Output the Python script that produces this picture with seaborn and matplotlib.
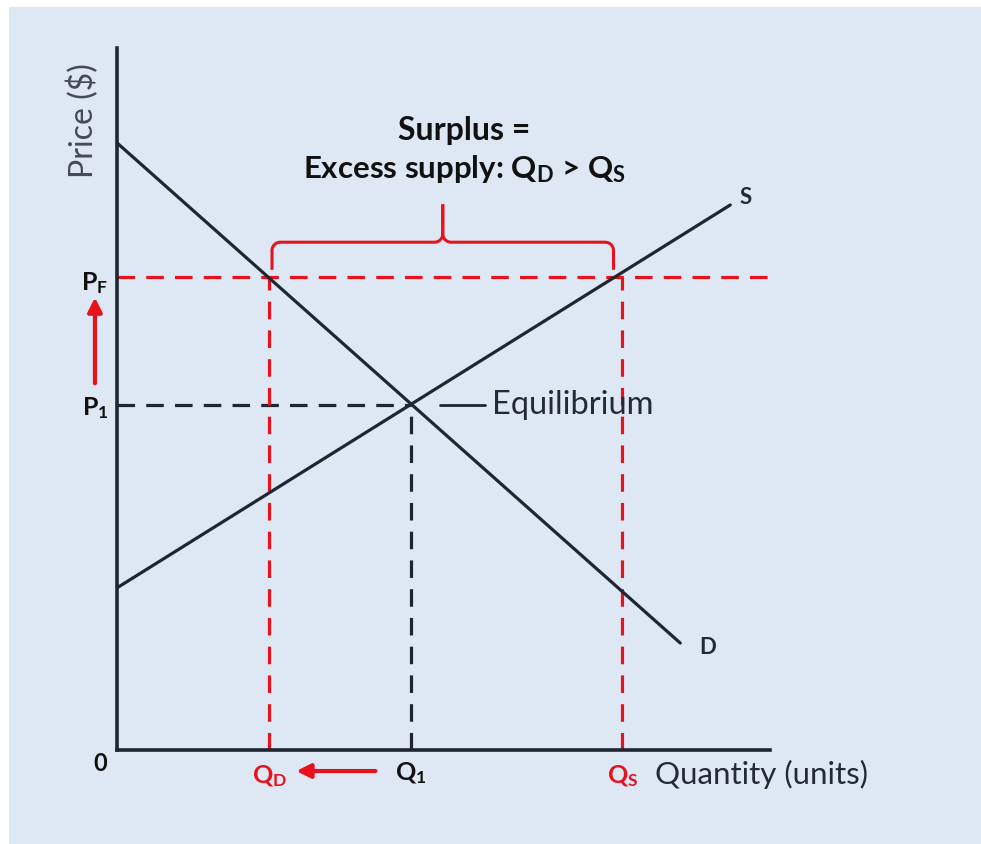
# Price floor diagram: surplus (excess supply) above equilibrium
# outputs out.png

import matplotlib.pyplot as plt
import numpy as np
import pandas as pd
import seaborn as sns
from matplotlib.patches import Rectangle

# ================ Data ================
demand_q = [0.0, 19.15]
demand_p = [17.6, 3.1]
supply_q = [0.0, 20.85]
supply_p = [4.7, 15.8]

Q_1 = 10.0
P_1 = 10.0
P_F = 13.7
Q_D = 5.17
Q_S = 17.18

X_MAX = 22.2
Y_MAX = 20.35

BG = "#dde8f4"
INK = "#1e2630"
RED = "#e8121c"

# ================ Style ================
sns.set_theme(style="white")
plt.rcParams["font.family"] = ["Lato", "DejaVu Sans"]
plt.rcParams["mathtext.fontset"] = "custom"
plt.rcParams["mathtext.rm"] = "Lato"
plt.rcParams["mathtext.bf"] = "Lato:bold"
plt.rcParams["mathtext.it"] = "Lato:italic"

fig = plt.figure(figsize=(9.81, 8.44), dpi=100)
fig.patch.set_facecolor("white")
fig.add_artist(
    Rectangle((9 / 981, 0), 1, 837 / 844, transform=fig.transFigure,
              facecolor=BG, edgecolor="none", zorder=-10)
)

ax = fig.add_axes([117 / 981, 94 / 844, 653 / 981, 702 / 844])
ax.set_facecolor("none")
ax.set_xlim(0, X_MAX)
ax.set_ylim(0, Y_MAX)
ax.set_xticks([])
ax.set_yticks([])
for side in ["top", "right"]:
    ax.spines[side].set_visible(False)
for side in ["left", "bottom"]:
    ax.spines[side].set_color(INK)
    ax.spines[side].set_linewidth(2.6)
    ax.spines[side].set_zorder(5)

# ================ Curves ================
curves = pd.concat([
    pd.DataFrame({"q": demand_q, "p": demand_p, "curve": "D"}),
    pd.DataFrame({"q": supply_q, "p": supply_p, "curve": "S"}),
])
sns.lineplot(data=curves, x="q", y="p", units="curve", estimator=None,
             color=INK, lw=2.3, ax=ax, legend=False, zorder=3)

# ================ Dashed guides ================
dash = (0, (5.5, 3.5))
ax.plot([0, Q_1], [P_1, P_1], color=INK, lw=2.3, ls=dash, zorder=2)
ax.plot([Q_1, Q_1], [0, P_1], color=INK, lw=2.3, ls=dash, zorder=2)
ax.plot([0, X_MAX], [P_F, P_F], color=RED, lw=2.3, ls=dash, zorder=2, clip_on=False)
ax.plot([Q_D, Q_D], [0, P_F], color=RED, lw=2.3, ls=dash, zorder=2)
ax.plot([Q_S, Q_S], [0, P_F], color=RED, lw=2.3, ls=dash, zorder=2)

# ================ Brace over the surplus ================
x0, x1 = Q_D + 0.1, Q_S - 0.3
xm = (x0 + x1) / 2
yb = P_F + 1.02
rx, ry = 0.28, 0.24
t = np.linspace(0, np.pi / 2, 12)
left_corner = np.column_stack([x0 + rx - rx * np.cos(t), yb - ry + ry * np.sin(t)])
mid_left = np.column_stack([xm - rx + rx * np.sin(t), yb + ry - ry * np.cos(t)])
brace_left = np.vstack([[x0, P_F + 0.22], left_corner, mid_left, [xm, yb + 1.1]])
brace_right = brace_left.copy()
brace_right[:, 0] = 2 * xm - brace_right[:, 0]
for part in (brace_left, brace_right):
    ax.plot(part[:, 0], part[:, 1], color=RED, lw=2.2, zorder=3,
            solid_capstyle="butt")

# ================ Arrows ================
ax.annotate("", xy=(-0.75, 13.2), xytext=(-0.75, 10.55), xycoords="data",
            arrowprops=dict(arrowstyle="-|>,head_length=0.7,head_width=0.35",
                            color=RED, lw=3), annotation_clip=False)
ax.annotate("", xy=(6.0, -0.61), xytext=(8.88, -0.61), xycoords="data",
            arrowprops=dict(arrowstyle="-|>,head_length=0.7,head_width=0.35",
                            color=RED, lw=3), annotation_clip=False)

# ================ Text ================
ax.text(11.8, 17.97, "Surplus =", ha="center", va="center",
        fontsize=23, fontweight="bold", color="#111111")
ax.text(11.8, 16.85, r"Excess supply: $\mathbf{Q_D}$ > $\mathbf{Q_S}$",
        ha="center", va="center", fontsize=22.5, fontweight="bold", color="#111111")
ax.text(21.36, 16.03, "S", ha="center", va="center", fontsize=16,
        fontweight="bold", color="#222a35")
ax.text(20.07, 2.96, "D", ha="center", va="center", fontsize=16,
        fontweight="bold", color="#222a35")
ax.plot([10.99, 12.52], [P_1, P_1], color=INK, lw=2, zorder=3)
ax.text(12.76, P_1, "Equilibrium", ha="left", va="center", fontsize=23.5,
        color="#222a35")

ax.text(-0.75, P_F - 0.15, r"$\mathbf{P_F}$", ha="center", va="center",
        fontsize=18, color="#111111", clip_on=False)
ax.text(-0.75, P_1 - 0.1, r"$\mathbf{P_1}$", ha="center", va="center",
        fontsize=18, color="#111111", clip_on=False)
ax.text(-0.58, -0.38, "0", ha="center", va="center", fontsize=17,
        fontweight="bold", color="#111111")
ax.text(Q_D, -0.75, r"$\mathbf{Q_D}$", ha="center", va="center",
        fontsize=18, color=RED)
ax.text(Q_1, -0.67, r"$\mathbf{Q_1}$", ha="center", va="center",
        fontsize=18, color="#111111")
ax.text(Q_S, -0.75, r"$\mathbf{Q_S}$", ha="center", va="center",
        fontsize=18, color=RED)
ax.text(18.3, -0.72, "Quantity (units)", ha="left", va="center",
        fontsize=22.5, color="#222a35")
ax.text(-1.16, 18.26, "Price ($)", ha="center", va="center", rotation=90,
        fontsize=23, color="#444b55")

fig.savefig("out.png", dpi=100, facecolor=fig.get_facecolor())
